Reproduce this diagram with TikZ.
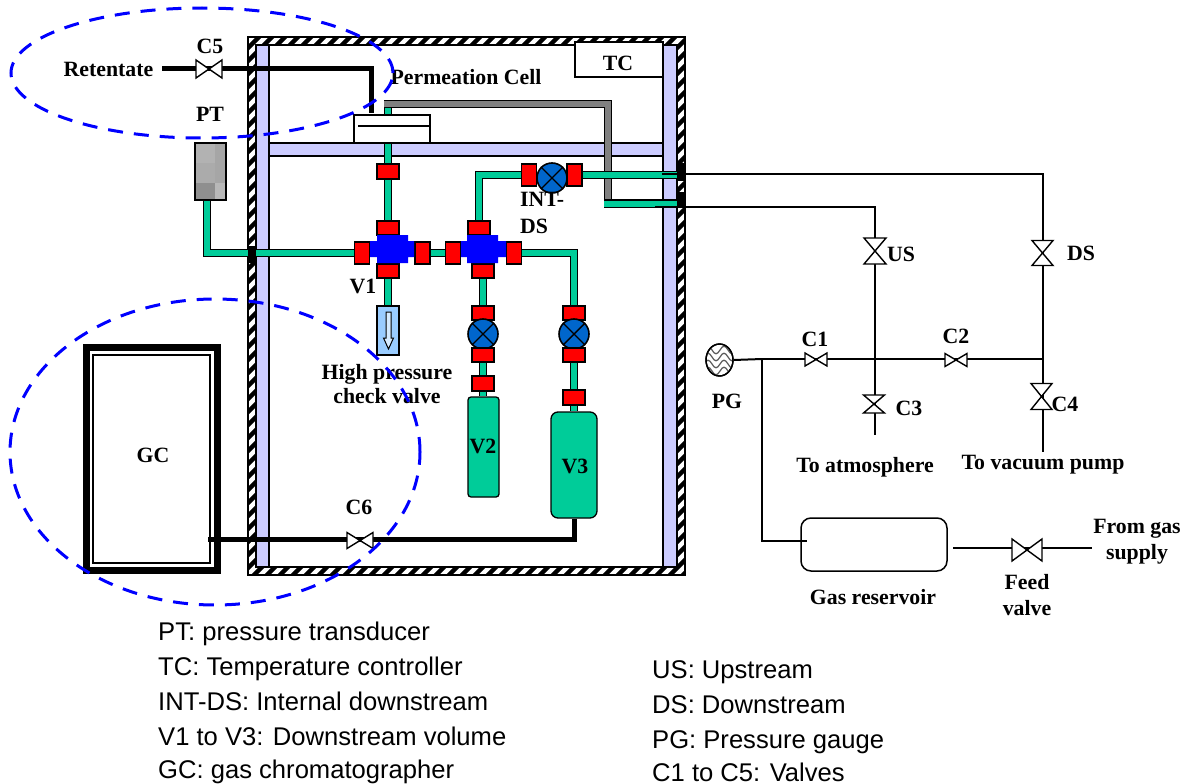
\documentclass[tikz,border=0pt]{standalone}
\usepackage{fontspec}
\setmainfont{Liberation Serif}
\newfontfamily\legendfont{Liberation Sans}
\usetikzlibrary{arrows.meta,calc,shapes.geometric}
\definecolor{pipegreen}{RGB}{0,204,153}
\definecolor{lav}{RGB}{204,204,255}
\definecolor{ballblue}{RGB}{0,102,204}
\definecolor{chk}{RGB}{153,204,255}
\definecolor{ringblue}{RGB}{0,0,255}
\tikzset{
  pipe/.style={draw=black,line width=1.4pt,double=pipegreen,double distance=6pt},
  graypipe/.style={draw=black,line width=1.4pt,double=gray,double distance=6pt},
  heavy/.style={draw=black,line width=5pt},
  thinline/.style={draw=black,line width=1.25pt},
  redh/.style={draw=black,fill=red,line width=1.6pt,minimum width=22pt,minimum height=14.5pt,inner sep=0pt},
  redv/.style={draw=black,fill=red,line width=1.6pt,minimum width=15pt,minimum height=22pt,inner sep=0pt},
  ball/.style={circle,draw=black,fill=ballblue,line width=1.6pt,minimum size=30pt,inner sep=0pt},
  lbl/.style={font=\bfseries\fontsize{21.8}{24}\selectfont,inner sep=0pt,align=center},
  lgd/.style={font=\legendfont\fontsize{25.6}{28}\selectfont,inner sep=0pt,anchor=base west},
  ring/.style={draw=ringblue,line width=3pt,dash pattern=on 15pt off 11pt},
  wallb/.style={draw=black,fill=lav,line width=1.5pt}
}
\newcommand{\hvalve}[5]{\coordinate (#1) at (#2,#3);
  \draw[fill=white,line width=1.4pt,line join=miter] (#2-#4,#3-#5) -- (#2+#4,#3+#5) -- (#2+#4,#3-#5) -- (#2-#4,#3+#5) -- cycle;}
\newcommand{\vvalve}[5]{\coordinate (#1) at (#2,#3);
  \draw[fill=white,line width=1.4pt,line join=miter] (#2-#4,#3-#5) -- (#2+#4,#3+#5) -- (#2-#4,#3+#5) -- (#2+#4,#3-#5) -- cycle;}
\newcommand{\ballx}[1]{\draw[line width=1.4pt] (#1.north west) -- (#1.south east) (#1.north east) -- (#1.south west);}
\newcommand{\bluecross}[4]{\fill[blue] (#1,241) -- (#2,241) -- (#2,235) -- (#3,235) -- (#3,241) -- (#4,241) -- (#4,257) -- (#3,257) -- (#3,263) -- (#2,263) -- (#2,257) -- (#1,257) -- cycle;}
\begin{document}
\begin{tikzpicture}[x=1pt,y=-1pt]
\useasboundingbox (0,0) rectangle (1194,784);
% wall hatch
\fill[white] (248,37) rectangle (685,575);
\begin{scope}
\clip (248,37) rectangle (685,45) (248,45) rectangle (256,575) (677,45) rectangle (685,575) (256,567) rectangle (677,575);
\foreach \k in {-560,-547,...,460}{
  \draw[line width=4.5pt] (240+\k,590) -- (240+\k+560,30);
}
\end{scope}
\draw[line width=1.4pt] (248,37) rectangle (685,575);
\draw[line width=1.4pt] (256,45) rectangle (677,567);
% lavender frame
\path[wallb] (256,45) rectangle (269,567);
\path[wallb] (663,45) rectangle (677,567);
\path[wallb] (269,143) rectangle (663,156);
% TC
\node[draw=black,fill=white,line width=1.3pt,minimum width=88pt,minimum height=35pt,inner sep=0pt] (tc) at (619,59.5) {};
\node[lbl] (tcl) at (618,63) {TC};
% cell
\node[draw=black,fill=white,line width=1.3pt,minimum width=76pt,minimum height=28pt,inner sep=0pt] (cell) at (392,129) {};
\draw[line width=1.3pt] (358,126) -- (430,126);
\coordinate (pa) at (371,69);
\coordinate (pb) at (371,113);
\coordinate (rs) at (162,69);
\coordinate (gt) at (388,108);
\coordinate (gc1) at (384,104);
\coordinate (gc2) at (608,104);
\coordinate (gc3) at (608,200);
\coordinate (gs) at (604,203.5);
\coordinate (gout) at (677,203.5);
\coordinate (dsout) at (677,175);
% PT
\fill[gray!78] (195,143) rectangle (226,200);
\fill[black!30] (195,143) rectangle (215,163);
\fill[black!35] (215,143) rectangle (226,183);
\fill[black!33] (195,163) rectangle (215,183);
\fill[black!44] (195,183) rectangle (215,200);
\fill[black!28] (215,183) rectangle (226,200);
\node[draw=black,line width=1.3pt,inner sep=0pt,minimum width=31pt,minimum height=57pt] (pt) at (210.5,171.5) {};
\coordinate (ptc) at (207,253);
% fittings
\node[redh] (r1) at (388,171.5) {};
\node[redh] (r2) at (388,228) {};
\node[redv] (r3) at (362,253) {};
\node[redv] (r4) at (422.5,253) {};
\node[redh] (r5) at (388,271) {};
\node[redv] (r6) at (453,253) {};
\node[redv] (r7) at (514,253) {};
\node[redh] (r8) at (479,228) {};
\node[redh] (r9) at (483,271) {};
\node[redv] (r10) at (529,175) {};
\node[redv] (r11) at (574.5,175) {};
\node[ball] (bi) at (552,178) {};
\ballx{bi}
\node[draw=black,fill=chk,line width=1.3pt,minimum width=22pt,minimum height=49pt,inner sep=0pt] (chkv) at (388,330.5) {};
\draw[line width=1pt,fill=chk!40,line join=miter] (386,312) -- (391,312) -- (391,338) -- (393.5,338) -- (388.5,349) -- (383.5,338) -- (386,338) -- cycle;
\bluecross{370}{377}{408}{414}
\bluecross{461}{467}{498}{506}
\node[redh] (r12) at (483,313) {};
\node[ball] (b2) at (483,334) {};
\ballx{b2}
\node[redh] (r13) at (483,355) {};
\node[redh] (r14) at (483,383.5) {};
\node[redh] (r15) at (574,313) {};
\node[ball] (b3) at (574,334) {};
\ballx{b3}
\node[redh] (r16) at (574,355) {};
\node[redh] (r17) at (574,397.5) {};
\node[draw=black,fill=pipegreen,line width=1.3pt,rounded corners=3pt,minimum width=31pt,minimum height=100pt,inner sep=0pt] (v2) at (483.5,447) {};
\node[draw=black,fill=pipegreen,line width=1.3pt,rounded corners=7pt,minimum width=46pt,minimum height=106pt,inner sep=0pt] (v3) at (574,465) {};
\coordinate (k1) at (479,175);
\coordinate (k2) at (574,253);
\coordinate (k3) at (574,539);
% GC
\node[draw=black,line width=7pt,minimum width=131pt,minimum height=223pt,inner sep=0pt,outer sep=0pt] (gcb) at (152,459) {};
\node[draw=black,line width=2.5pt,minimum width=117pt,minimum height=208pt,inner sep=0pt] (gci) at (151.5,459) {};
\coordinate (gcin) at (208,539);
% pipes
\path[pipe] (gt) -- (cell.north -| gt);
\path[graypipe] (gc1) -- (gc2) -- (gc3);
\path[pipe] (gs) -- (gout);
\draw[heavy,line join=miter] (rs) -- (pa) -- (pb);
\path[pipe,line join=miter] (pt.south -| ptc) -- (ptc) -- (r3.west);
\path[pipe] (cell.south -| r1) -- (r1.north);
\path[pipe] (r1.south) -- (r2.north);
\path[pipe] (r4.east) -- (r6.west);
\path[pipe] (r5.south) -- (chkv.north);
\path[pipe,line join=miter] (r8.north) -- (k1) -- (r10.west);
\path[pipe] (r11.east) -- (dsout);
\path[pipe,line join=miter] (r7.east) -- (k2) -- (r15.north);
\path[pipe] (r9.south) -- (r12.north);
\path[pipe] (r13.south) -- (r14.north);
\path[pipe] (r14.south) -- (v2.north -| r14);
\path[pipe] (r16.south) -- (r17.north);
\path[pipe] (r17.south) -- (v3.north -| r17);
\draw[heavy,line join=miter] (v3.south) -- (k3) -- (gcin);
% wall junction blocks
\fill (248,246) rectangle (256,263);
\fill (677,163) rectangle (685,181);
\fill (677,192) rectangle (685,208);
% valves inside
\hvalve{c5}{209}{69}{13}{9}
\hvalve{c6}{360}{540.5}{13}{8}
% right hand circuit
\node[ellipse,draw=black,fill=white,line width=1.4pt,minimum width=27pt,minimum height=32pt,inner sep=0pt] (pg) at (719.5,360) {};
\begin{scope}
\clip (719.5,360) ellipse [x radius=13pt,y radius=15.5pt];
\foreach \yy in {350,357,364,371}{
  \draw[black!65,line width=1.2pt] (704,\yy) .. controls (707,\yy-5) and (709,\yy-5) .. (712,\yy) .. controls (715,\yy+5) and (717,\yy+5) .. (720,\yy) .. controls (723,\yy-5) and (725,\yy-5) .. (728,\yy) .. controls (731,\yy+5) and (733,\yy+5) .. (736,\yy);
}
\end{scope}
\node[ellipse,draw=black,line width=1.4pt,minimum width=27pt,minimum height=32pt,inner sep=0pt] at (719.5,360) {};
\coordinate (tj) at (875,359);
\coordinate (dj) at (1043,359);
\coordinate (pj) at (762,359);
\coordinate (ts) at (875,207);
\coordinate (ds) at (1043,174);
\coordinate (te) at (875,435);
\coordinate (de) at (1043,452);
\coordinate (w1) at (662,174);
\coordinate (w2) at (655,207);
\coordinate (rp) at (762,541);
\node[draw=black,line width=1.5pt,rounded corners=10pt,minimum width=146pt,minimum height=53pt,inner sep=0pt] (res) at (874,544.5) {};
\coordinate (resin) at (807,541);
\coordinate (feeda) at (953,548);
\coordinate (feedb) at (1092,548);
\draw[thinline] (w1) -- (ds) -- (de);
\draw[thinline] (w2) -- (ts) -- (te);
\draw[thinline] (pj) -- (dj);
\draw[line width=2pt] (pg.east) -- (pj);
\draw[thinline] (pj) -- (rp) -- (resin);
\draw[thinline] (feeda) -- (feedb);
\vvalve{us}{875}{251}{11}{13}
\vvalve{dsv}{1042.5}{253}{10.5}{12.5}
\vvalve{c3}{874}{404}{10.5}{9}
\vvalve{c4}{1041.5}{396.5}{10.5}{13}
\hvalve{c1}{816}{359.5}{11}{6.5}
\hvalve{c2}{956}{360}{11}{6.5}
\hvalve{feed}{1027}{550}{15}{11}
% labels
\node[lbl] (t1) at (108.5,69) {Retentate};
\node[lbl] (t2) at (210,46) {C5};
\node[lbl] (t3) at (210,114) {PT};
\node[lbl] (t4) at (466,77) {Permeation Cell};
\node[lbl] (t5) at (363,286) {V1};
\node[lbl,align=left,anchor=north west,font=\bfseries\fontsize{21.8}{27}\selectfont] (t6) at (520,192) {INT-\\DS};
\node[lbl,font=\bfseries\fontsize{21.8}{24}\selectfont] (t7) at (387,384) {High pressure\\check valve};
\node[lbl] (t8) at (483,446) {V2};
\node[lbl] (t9) at (575,466) {V3};
\node[lbl] (t10) at (153,455) {GC};
\node[lbl] (t11) at (359,507) {C6};
\node[lbl] (t12) at (901,254) {US};
\node[lbl] (t13) at (1081,253) {DS};
\node[lbl] (t14) at (815,339) {C1};
\node[lbl] (t15) at (956,336) {C2};
\node[lbl] (t16) at (727,401) {PG};
\node[lbl] (t17) at (909,408) {C3};
\node[lbl] (t18) at (1065,404) {C4};
\node[lbl] (t19) at (865,467) {To atmosphere};
\node[lbl] (t20) at (1043,465) {To vacuum pump};
\node[lbl] (t21) at (873,597) {Gas reservoir};
\node[lbl,font=\bfseries\fontsize{21.8}{26}\selectfont] (t22) at (1027,595) {Feed\\valve};
\node[lbl,font=\bfseries\fontsize{21.8}{26}\selectfont] (t23) at (1137,542) {From gas\\supply};
% legend
\node[lgd] (l1) at (158,640) {PT: pressure transducer};
\node[lgd] (l2) at (158,675) {TC: Temperature controller};
\node[lgd] (l3) at (158,710) {INT-DS: Internal downstream};
\node[lgd] (l4) at (158,745) {V1 to V3: Downstream volume};
\node[lgd] (l5) at (158,778) {GC: gas chromatographer};
\node[lgd] (l6) at (652,678) {US: Upstream};
\node[lgd] (l7) at (652,713) {DS: Downstream};
\node[lgd] (l8) at (652,748) {PG: Pressure gauge};
\node[lgd] (l9) at (652,781) {C1 to C5: Valves};
% dashed rings
\draw[ring] (202,73) ellipse [x radius=191pt,y radius=65pt];
\draw[ring] (215,452) ellipse [x radius=205pt,y radius=153pt];
\end{tikzpicture}
\end{document}
